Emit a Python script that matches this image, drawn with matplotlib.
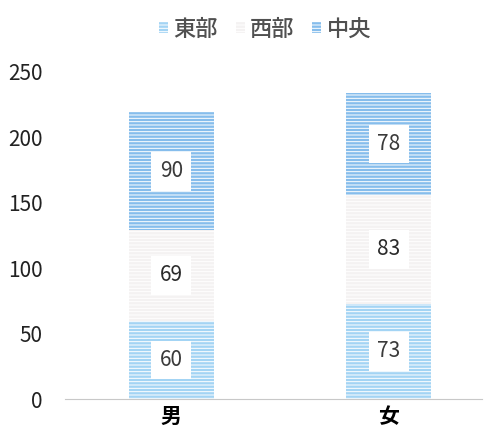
import matplotlib.pyplot as plt
import numpy as np

plt.rcParams['font.family'] = ['Noto Sans CJK JP', 'DejaVu Sans']
plt.rcParams['hatch.linewidth'] = 0.7

# 性別ごとの地域別人数
categories = ['男', '女']
series_names = ['東部', '西部', '中央']
east = [60, 73]
west = [69, 83]
central = [90, 78]

colors = ['#a3d4f4', '#f4f2f2', '#86bdec']
text_colors = ['#3a3a3a', '#2a2a2a', '#3a3a3a']

fig = plt.figure(figsize=(4.91, 4.41), dpi=100)
ax = fig.add_axes([0.132, 0.095, 0.85, 0.742])

x = np.arange(len(categories))
bottom = np.zeros(len(categories))
for name, vals, col, tc in zip(series_names, [east, west, central], colors, text_colors):
    bars = ax.bar(x, vals, 0.39, bottom=bottom, color=col, edgecolor='white',
                  linewidth=0, hatch='-----', label=name)
    for b, v in zip(bars, vals):
        ax.text(b.get_x() + b.get_width() / 2, b.get_y() + v / 2, str(v),
                ha='center', va='center', fontsize=15, color=tc,
                bbox=dict(boxstyle='square,pad=0.4', fc='white', ec='none'))
    bottom += np.array(vals)

ax.set_xlim(-0.49, 1.43)
ax.set_ylim(0, 250)
ax.set_yticks([0, 50, 100, 150, 200, 250])
ax.set_xticks(x)
ax.set_xticklabels(categories, fontsize=15, fontweight='bold')
ax.tick_params(axis='y', length=0, labelsize=15, colors='#222222', pad=16)
ax.tick_params(axis='x', length=0, pad=5)
for s in ['top', 'right', 'left']:
    ax.spines[s].set_visible(False)
ax.spines['bottom'].set_color('#c8c8c8')

leg = fig.legend(loc='upper center', bbox_to_anchor=(0.54, 1.005), ncol=3,
                 frameon=False, fontsize=16, handlelength=0.4, handleheight=0.4,
                 handletextpad=0.25, columnspacing=0.8)
for t in leg.get_texts():
    t.set_color('#505050')
    t.set_fontweight('medium')

fig.savefig('out.png', dpi=100)
